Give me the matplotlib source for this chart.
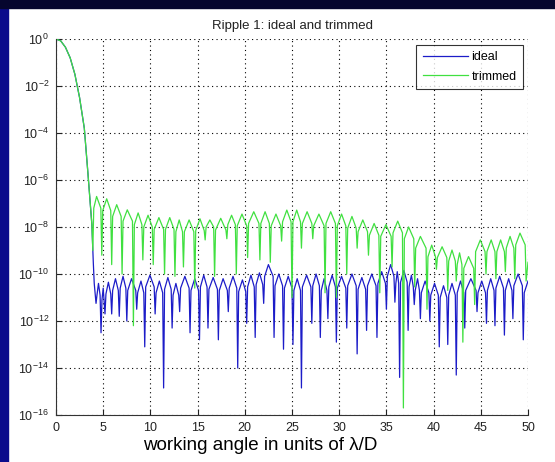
import numpy as np
import matplotlib
matplotlib.use("Agg")
import matplotlib.pyplot as plt
from matplotlib.patches import Rectangle

# values (log10 of the intensity), one side lobe per line:
# null, rising shoulder, lobe top, falling shoulder
ideal_x = [0, 0.5, 1.0, 1.5, 2.0, 2.5, 3.0, 3.4, 3.8, 3.95, 4.05,
           4.24, 4.34, 4.5, 4.67,
           4.77, 4.87, 5.0, 5.09,
           5.19, 5.29, 5.55, 5.8,
           5.9, 6.0, 6.3, 6.6,
           6.7, 6.8, 7.1, 7.4,
           7.5, 7.6, 8.0, 8.45,
           8.55, 8.65, 9.0, 9.3,
           9.4, 9.5, 9.95, 10.4,
           10.5, 10.6, 10.95, 11.3,
           11.4, 11.5, 11.85, 12.2,
           12.3, 12.4, 12.7, 13.0,
           13.1, 13.2, 13.65, 14.1,
           14.2, 14.3, 14.7, 15.1,
           15.2, 15.3, 15.65, 16.0,
           16.1, 16.2, 16.65, 17.1,
           17.2, 17.3, 17.7, 18.15,
           18.25, 18.35, 18.75, 19.15,
           19.25, 19.35, 19.75, 20.1,
           20.2, 20.3, 20.65, 21.0,
           21.1, 21.2, 21.55, 21.9,
           22.0, 22.1, 22.5, 23.0,
           23.1, 23.2, 23.6, 24.0,
           24.1, 24.2, 24.6, 25.0,
           25.1, 25.2, 25.55, 25.9,
           26.0, 26.1, 26.55, 27.0,
           27.1, 27.2, 27.55, 27.9,
           28.0, 28.1, 28.4, 28.7,
           28.8, 28.9, 29.25, 29.6,
           29.7, 29.8, 30.25, 30.7,
           30.8, 30.9, 31.35, 31.8,
           31.9, 32.0, 32.4, 32.8,
           32.9, 33.0, 33.45, 33.9,
           34.0, 34.1, 34.5, 34.9,
           35.0, 35.1, 35.45, 35.8,
           35.9, 36.0, 36.15, 36.3,
           36.4, 36.5, 36.85, 37.2,
           37.3, 37.4, 37.65, 37.85,
           37.95, 38.05, 38.3, 38.5,
           38.6, 38.7, 39.1, 39.5,
           39.6, 39.7, 40.1, 40.5,
           40.6, 40.7, 41.05, 41.4,
           41.5, 41.6, 41.95, 42.3,
           42.4, 42.5, 42.85, 43.2,
           43.3, 43.4, 43.95, 44.5,
           44.6, 44.7, 45.1, 45.5,
           45.6, 45.7, 46.05, 46.4,
           46.5, 46.6, 47.0, 47.4,
           47.5, 47.6, 47.95, 48.3,
           48.4, 48.5, 48.95, 49.4,
           49.5, 49.6, 50.0]
ideal_log = [0, -0.08, -0.35, -0.8, -1.5, -2.5, -3.8, -5.8, -7.9, -9.5, -10.4,
             -11.25, -10.9, -10.4, -10.9,
             -12.5, -11.1, -10.6, -11.1,
             -11.7, -10.85, -10.35, -10.85,
             -11.7, -10.7, -10.2, -10.7,
             -11.8, -10.6, -10.1, -10.6,
             -12.0, -10.7, -10.2, -10.7,
             -11.5, -10.8, -10.3, -10.8,
             -13.1, -10.55, -10.05, -10.55,
             -11.7, -10.8, -10.3, -10.8,
             -14.85, -10.65, -10.15, -10.65,
             -12.3, -10.9, -10.4, -10.9,
             -11.6, -10.6, -10.1, -10.6,
             -12.5, -10.7, -10.2, -10.7,
             -12.8, -10.55, -10.05, -10.55,
             -12.3, -10.65, -10.15, -10.65,
             -12.8, -10.7, -10.2, -10.7,
             -11.6, -10.6, -10.1, -10.6,
             -14.0, -10.75, -10.25, -10.75,
             -12.1, -10.55, -10.05, -10.55,
             -12.7, -10.45, -9.95, -10.45,
             -11.25, -10.1, -9.6, -10.1,
             -12.7, -10.5, -10.0, -10.5,
             -13.2, -10.6, -10.1, -10.6,
             -13.0, -10.7, -10.2, -10.7,
             -14.85, -10.55, -10.05, -10.55,
             -12.1, -10.5, -10.0, -10.5,
             -12.7, -10.7, -10.2, -10.7,
             -11.9, -10.55, -10.05, -10.55,
             -12.9, -10.6, -10.1, -10.6,
             -12.3, -10.5, -10.0, -10.5,
             -13.4, -10.65, -10.15, -10.65,
             -12.4, -10.5, -10.0, -10.5,
             -12.7, -10.4, -9.9, -10.4,
             -11.5, -10.1, -9.6, -10.1,
             -11.2, -10.4, -9.9, -10.4,
             -14.4, -10.35, -9.85, -10.35,
             -12.4, -10.55, -10.05, -10.55,
             -11.3, -10.7, -10.2, -10.7,
             -11.9, -10.8, -10.3, -10.8,
             -12.0, -10.9, -10.4, -10.9,
             -13.1, -11.0, -10.5, -11.0,
             -13.0, -10.9, -10.4, -10.9,
             -14.3, -10.8, -10.3, -10.8,
             -12.3, -10.7, -10.2, -10.7,
             -11.6, -10.8, -10.3, -10.8,
             -12.1, -10.7, -10.2, -10.7,
             -12.2, -10.6, -10.1, -10.6,
             -12.6, -10.7, -10.2, -10.7,
             -11.9, -10.5, -10.0, -10.5,
             -12.8, -10.8, -10.3]

trimmed_x = [0, 0.5, 1.0, 1.5, 2.0, 2.5, 3.0, 3.4, 3.8,
             3.9, 4.0, 4.3, 4.75,
             4.85, 4.95, 5.37, 5.8,
             5.9, 6.0, 6.43, 6.9,
             7.0, 7.1, 7.55, 8.1,
             8.2, 8.3, 8.7, 9.1,
             9.2, 9.3, 9.75, 10.2,
             10.3, 10.4, 10.9, 11.4,
             11.5, 11.6, 12.05, 12.5,
             12.6, 12.7, 13.05, 13.4,
             13.5, 13.6, 14.1, 14.6,
             14.7, 14.8, 15.25, 15.7,
             15.8, 15.9, 16.3, 16.7,
             16.8, 16.9, 17.45, 18.0,
             18.1, 18.2, 18.6, 19.0,
             19.1, 19.2, 19.7, 20.2,
             20.3, 20.4, 20.95, 21.5,
             21.6, 21.7, 22.15, 22.6,
             22.7, 22.8, 23.3, 23.8,
             23.9, 24.0, 24.45, 24.9,
             25.0, 25.1, 25.5, 25.9,
             26.0, 26.1, 26.6, 27.1,
             27.2, 27.3, 27.85, 28.4,
             28.5, 28.6, 29.1, 29.6,
             29.7, 29.8, 30.25, 30.7,
             30.8, 30.9, 31.35, 31.8,
             31.9, 32.0, 32.5, 33.0,
             33.1, 33.2, 33.7, 34.2,
             34.3, 34.4, 34.95, 35.5,
             35.6, 35.7, 36.2, 36.7,
             36.8, 36.9, 37.35, 37.9,
             38.0, 38.1, 38.6, 39.2,
             39.3, 39.4, 39.8, 40.2,
             40.3, 40.4, 40.9, 41.4,
             41.5, 41.6, 41.95, 42.3,
             42.4, 42.5, 42.75, 43.0,
             43.1, 43.2, 43.7, 44.25,
             44.35, 44.45, 44.95, 45.45,
             45.55, 45.65, 46.1, 46.5,
             46.6, 46.7, 47.1, 47.5,
             47.6, 47.7, 48.1, 48.5,
             48.6, 48.7, 49.15, 49.7,
             49.8, 50.0]
trimmed_log = [0, -0.08, -0.35, -0.8, -1.5, -2.5, -3.8, -5.8, -7.9,
               -9.0, -7.2, -6.7, -7.2,
               -9.2, -7.3, -6.8, -7.3,
               -9.6, -7.55, -7.05, -7.55,
               -10.0, -7.75, -7.27, -7.75,
               -12.2, -7.9, -7.4, -7.9,
               -9.4, -8.0, -7.5, -8.0,
               -9.6, -8.1, -7.6, -8.1,
               -10.0, -8.1, -7.6, -8.1,
               -10.1, -8.2, -7.7, -8.2,
               -9.7, -8.2, -7.7, -8.2,
               -10.6, -8.15, -7.65, -8.15,
               -8.55, -8.0, -7.7, -8.0,
               -10.1, -8.13, -7.63, -8.13,
               -8.5, -7.9, -7.5, -7.9,
               -10.0, -7.95, -7.45, -7.95,
               -9.3, -7.85, -7.35, -7.85,
               -9.4, -7.85, -7.35, -7.85,
               -9.5, -7.95, -7.45, -7.95,
               -8.6, -7.78, -7.28, -7.78,
               -11.0, -7.78, -7.28, -7.78,
               -8.9, -7.85, -7.35, -7.85,
               -8.5, -7.95, -7.45, -7.95,
               -10.8, -7.85, -7.35, -7.85,
               -11.0, -7.95, -7.45, -7.95,
               -10.0, -8.05, -7.55, -8.05,
               -8.9, -8.2, -7.7, -8.2,
               -9.2, -8.35, -7.85, -8.35,
               -10.8, -8.4, -7.9, -8.4,
               -9.7, -8.25, -7.75, -8.25,
               -15.7, -8.5, -8.0, -8.5,
               -10.55, -8.9, -8.4, -8.9,
               -11.5, -9.27, -8.77, -9.27,
               -9.8, -9.3, -8.84, -9.3,
               -10.7, -9.45, -8.98, -9.45,
               -10.3, -9.6, -9.1, -9.6,
               -12.9, -9.76, -9.26, -9.76,
               -11.3, -9.05, -8.55, -9.05,
               -10.0, -9.05, -8.55, -9.05,
               -10.2, -9.05, -8.55, -9.05,
               -9.9, -8.9, -8.4, -8.9,
               -10.2, -8.76, -8.26, -8.76,
               -10.3, -9.5]

x_ticks = [0, 5, 10, 15, 20, 25, 30, 35, 40, 45, 50]
y_exps = [0, -2, -4, -6, -8, -10, -12, -14, -16]

plt.rcParams['font.family'] = ['Liberation Sans', 'DejaVu Sans']
plt.rcParams['mathtext.fontset'] = 'custom'
plt.rcParams['mathtext.rm'] = 'Liberation Sans'
plt.rcParams['mathtext.it'] = 'Liberation Sans:italic'

fig = plt.figure(figsize=(5.55, 4.62), dpi=100, facecolor='white')
# slide background peeking out at the left and top edges
fig.patches.append(Rectangle((0, 0), 8 / 555, 1, transform=fig.transFigure,
                             color='#0b0b8c', zorder=0))
fig.patches.append(Rectangle((0, 1 - 8 / 462), 1, 8 / 462, transform=fig.transFigure,
                             color='#06062e', zorder=0))

ax = fig.add_axes([56 / 555, 47 / 462, 472 / 555, 376 / 462])
ax.semilogy(ideal_x, 10.0 ** np.array(ideal_log), color='#1c1cc8', lw=0.9, label='ideal')
ax.semilogy(trimmed_x, 10.0 ** np.array(trimmed_log), color='#40e040', lw=0.9, label='trimmed')

ax.set_xlim(0, 50)
ax.set_ylim(1e-16, 1)
ax.set_xticks(x_ticks)
ax.set_xticklabels([str(t) for t in x_ticks])
ax.set_yticks([10.0 ** e for e in y_exps])
ax.set_yticklabels([r'$10^{%d}$' % e for e in y_exps])
ax.yaxis.set_minor_locator(matplotlib.ticker.NullLocator())
ax.grid(True, which='major', color='black', linestyle=(0, (1, 3)), linewidth=0.8)
ax.tick_params(direction='in', length=4, labelsize=9, colors='#222222',
               top=False, right=False, pad=5)
ax.spines['top'].set_visible(False)
ax.spines['right'].set_visible(False)
for s in ['left', 'bottom']:
    ax.spines[s].set_color('#333333')

ax.set_title('Ripple 1: ideal and trimmed', fontsize=9.5, color='#222222', pad=7)
fig.text(260 / 555, 16 / 462, 'working angle in units of λ/D', fontsize=13.5,
         color='black', ha='center', va='center')

leg = ax.legend(loc='upper right', fontsize=9, frameon=True, fancybox=False,
                handlelength=3.6, handletextpad=0.3, borderpad=0.5, labelspacing=0.6,
                borderaxespad=0, bbox_to_anchor=(0.989, 0.984))
leg.get_frame().set_edgecolor('black')
leg.get_frame().set_linewidth(0.8)

fig.savefig('out.png', dpi=100, facecolor='white')
